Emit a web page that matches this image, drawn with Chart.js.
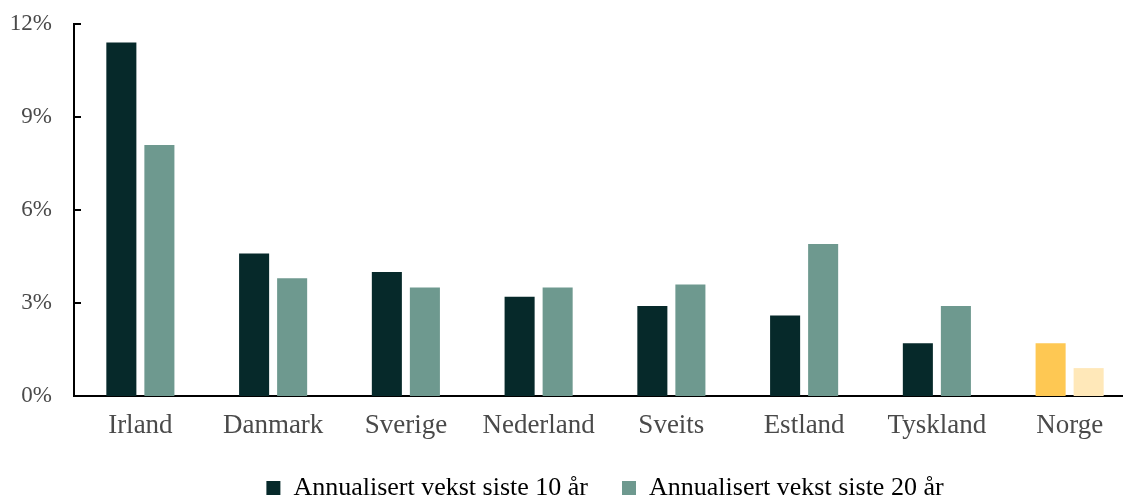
<!DOCTYPE html>
<html>
<head>
<meta charset="utf-8">
<script src="https://cdn.jsdelivr.net/npm/chart.js@4"></script>
<style>
  html, body { margin: 0; padding: 0; overflow: hidden; background: #fff; }
  #wrap { width: 1136px; height: 497px; }
</style>
</head>
<body>
<div id="wrap"><canvas id="vekst"></canvas></div>
<script>
var land = ["Irland", "Danmark", "Sverige", "Nederland", "Sveits", "Estland", "Tyskland", "Norge"];
var vekst10 = [11.4, 4.6, 4.0, 3.2, 2.9, 2.6, 1.7, 1.7];
var vekst20 = [8.1, 3.8, 3.5, 3.5, 3.6, 4.9, 2.9, 0.9];
var serieNavn = ["Annualisert vekst siste 10 år", "Annualisert vekst siste 20 år"];
var yTicks = [0, 3, 6, 9, 12];

var tekstFarge = "#4a4a4a";
var font = "'Liberation Serif', 'DejaVu Serif', serif";

// Norge is highlighted in yellow
var farge10 = land.map(function (l) { return l === "Norge" ? "#fec853" : "#06292a"; });
var farge20 = land.map(function (l) { return l === "Norge" ? "#ffe8b9" : "#6e998f"; });

// small inward tick marks on the y axis
var innTicks = {
    id: "innTicks",
    afterDraw: function (chart) {
        var y = chart.scales.y;
        var ctx = chart.ctx;
        ctx.save();
        ctx.strokeStyle = "#000";
        ctx.lineWidth = 2;
        y.ticks.forEach(function (t, i) {
            var py = Math.round(y.getPixelForTick(i));
            ctx.beginPath();
            ctx.moveTo(chart.chartArea.left, py);
            ctx.lineTo(chart.chartArea.left + 7, py);
            ctx.stroke();
        });
        ctx.restore();
    },
};

// keep the legend block short so the plot gets the height
var legendHoyde = {
    id: "legendHoyde",
    beforeLayout: function (chart) {
        var lg = chart.legend;
        if (lg && !lg._kort) {
            var fit = lg.fit;
            lg.fit = function () {
                fit.call(this);
                this.height = 56;
            };
            lg._kort = true;
        }
    },
};

new Chart(document.getElementById("vekst").getContext("2d"), {
    type: "bar",
    data: {
        labels: land,
        datasets: [
            {
                label: serieNavn[0],
                data: vekst10,
                backgroundColor: farge10,
            },
            {
                label: serieNavn[1],
                data: vekst20,
                backgroundColor: farge20,
            },
        ],
    },
    options: {
        maintainAspectRatio: false,
        responsive: true,
        animation: false,
        categoryPercentage: 0.573,
        barPercentage: 0.79,
        layout: {
            padding: 0,
        },
        plugins: {
            tooltip: { enabled: false },
            legend: {
                position: "bottom",
                fullSize: false,
                labels: {
                    boxWidth: 14,
                    boxHeight: 14,
                    padding: 34,
                    color: tekstFarge,
                    font: { family: font, size: 26 },
                    // legend boxes use the green colours, not Norge's
                    generateLabels: function (chart) {
                        var farger = ["#06292a", "#6e998f"];
                        return chart.data.datasets.map(function (ds, i) {
                            return {
                                text: ds.label,
                                fillStyle: farger[i],
                                strokeStyle: farger[i],
                                lineWidth: 0,
                                datasetIndex: i,
                            };
                        });
                    },
                },
            },
        },
        scales: {
            y: {
                min: 0,
                max: 12,
                afterFit: function (s) {
                    s.width = 74;
                    s.paddingTop = 24;
                    s.paddingBottom = 0;
                },
                afterBuildTicks: function (s) {
                    s.ticks = yTicks.map(function (v) { return { value: v }; });
                },
                grid: { display: false, drawTicks: false },
                border: { display: true, color: "#000", width: 2 },
                ticks: {
                    padding: 22,
                    color: tekstFarge,
                    font: { family: font, size: 23 },
                    callback: function (v) { return v + "%"; },
                },
            },
            x: {
                afterFit: function (s) { s.height = 45; },
                grid: { display: false, drawTicks: false },
                border: { display: true, color: "#000", width: 2 },
                ticks: {
                    padding: 14,
                    color: tekstFarge,
                    font: { family: font, size: 27 },
                },
            },
        },
    },
    plugins: [innTicks, legendHoyde],
});
</script>
</body>
</html>
